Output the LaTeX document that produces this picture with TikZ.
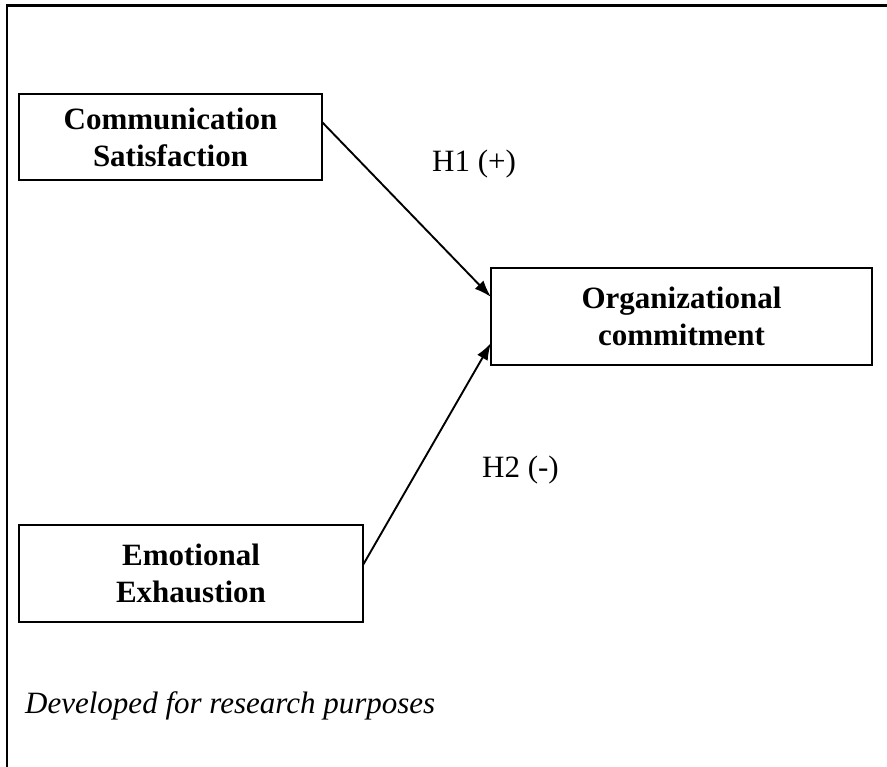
\documentclass[tikz,border=0pt]{standalone}
\usepackage{fontspec}
\setmainfont{Liberation Serif}
\usetikzlibrary{arrows.meta}

\begin{document}
\begin{tikzpicture}[x=1pt, y=-1pt,
	construct/.style={shape=rectangle, draw=black, line width=1.6pt, inner sep=0pt, outer sep=0pt,
		align=center, font=\fontsize{31}{37}\selectfont\bfseries},
	hyp/.style={anchor=base west, inner sep=0pt, font=\fontsize{31}{37}\selectfont},
	path/.style={-{Latex[length=17pt,width=12pt]}, line width=1.9pt}]
	
	\useasboundingbox (0, 0) rectangle (887, 767);
	\draw[line width=2.2pt] (7, 767) -- (7, 5.5) -- (887, 5.5);
	
	\node[construct, minimum width=303, minimum height=86] (cs) at (170.5, 137)   {Communication\\Satisfaction};
	\node[construct, minimum width=381, minimum height=97] (oc) at (681.5, 316.5) {Organizational\\commitment};
	\node[construct, minimum width=344, minimum height=97] (ee) at (191, 573.5)   {Emotional\\Exhaustion};
	
	\node[hyp] (h1) at (432, 172) {H1 (+)};
	\node[hyp] (h2) at (482, 477) {H2 (-)};
	
	\path[path] ([yshift=15pt]cs.east) edge ([yshift=19.5pt]oc.west);
	\path[path] ([yshift=8.5pt]ee.east) edge ([yshift=-26.5pt]oc.west);
	
	\node[hyp, font=\fontsize{31}{37}\selectfont\itshape] (note) at (25, 713) {Developed for research purposes};
	
\end{tikzpicture}
\end{document}
